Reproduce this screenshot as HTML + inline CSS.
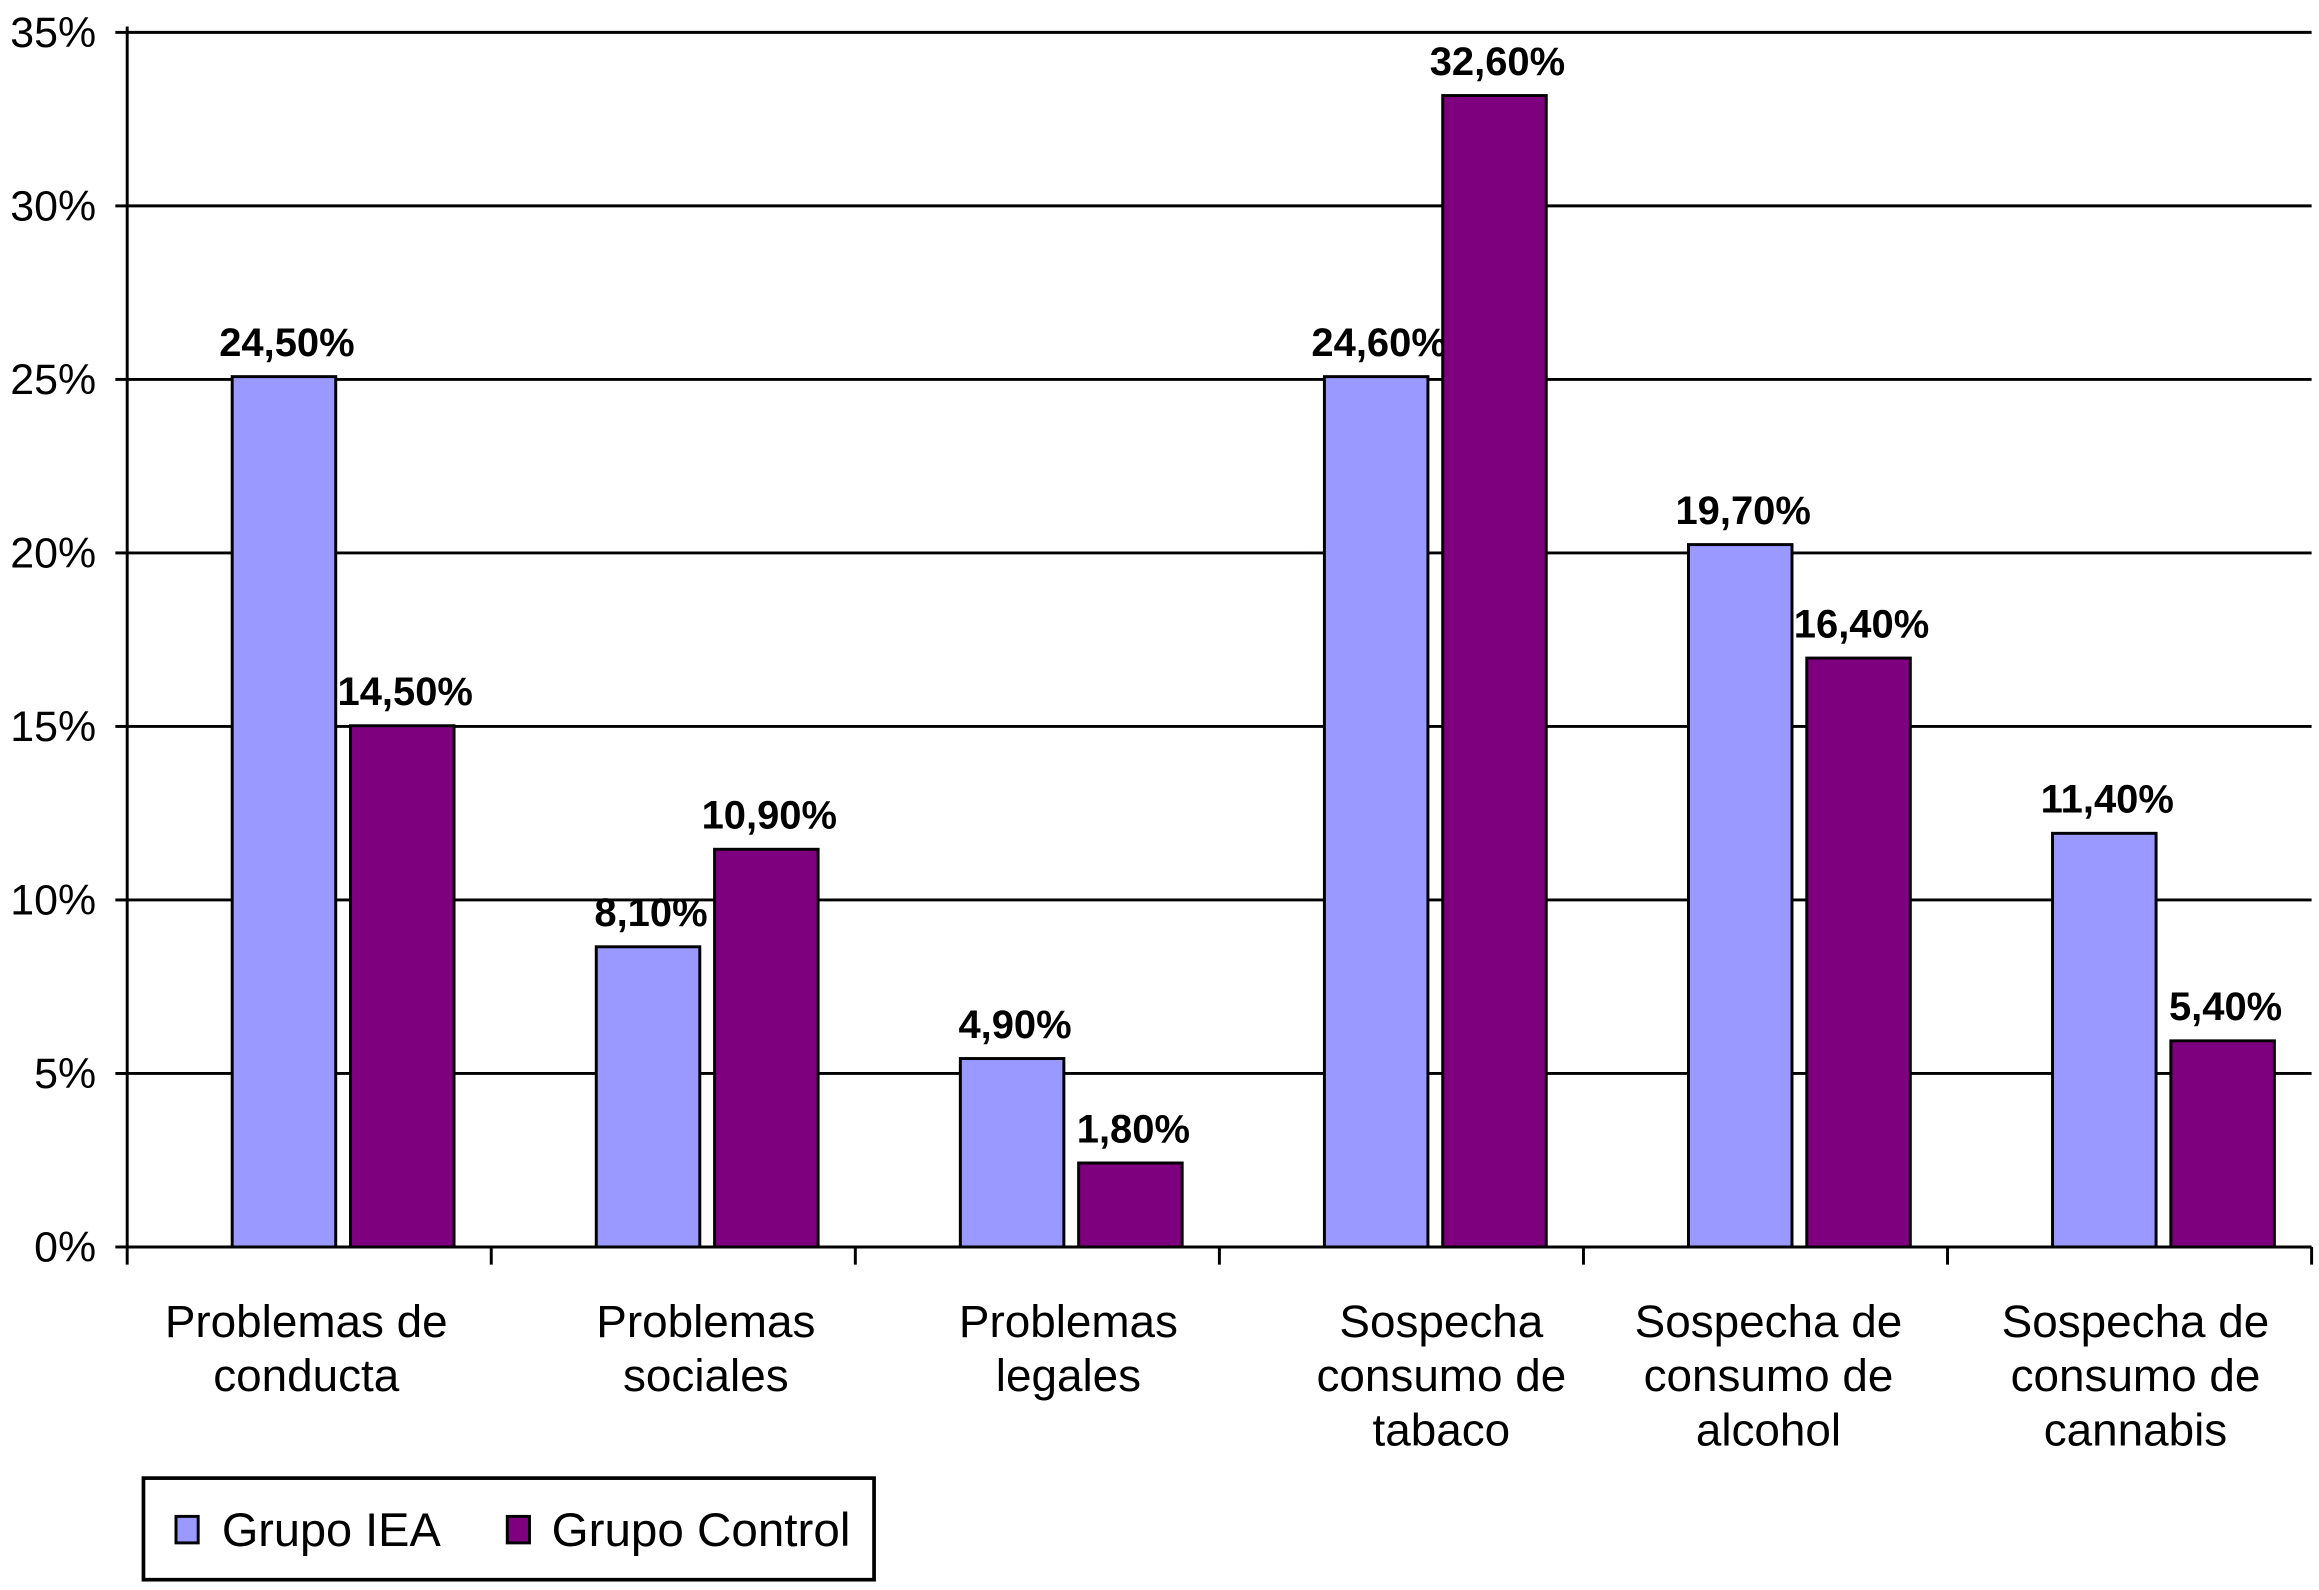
<!DOCTYPE html>
<html><head><meta charset="utf-8"><style>
html,body{margin:0;padding:0;background:#fff}
svg{display:block;font-family:"Liberation Sans",sans-serif}
</style></head><body>
<svg id="chart" width="2319" height="1590" viewBox="0 0 1568 1080" preserveAspectRatio="none" xmlns="http://www.w3.org/2000/svg"></svg>
<script>
const categories = [["Problemas de","conducta"],["Problemas","sociales"],["Problemas","legales"],["Sospecha","consumo de","tabaco"],["Sospecha de","consumo de","alcohol"],["Sospecha de","consumo de","cannabis"]];
const ieaValues = [25.08, 8.65, 5.43, 25.08, 20.24, 11.92];
const controlValues = [15.02, 11.46, 2.42, 33.18, 16.97, 5.94];
const ieaLabels = ["24,50%","8,10%","4,90%","24,60%","19,70%","11,40%"];
const controlLabels = ["14,50%","10,90%","1,80%","32,60%","16,40%","5,40%"];
const yTicks = [0,5,10,15,20,25,30,35];
const yTickLabels = ["0%","5%","10%","15%","20%","25%","30%","35%"];

const NS="http://www.w3.org/2000/svg";
const svg=document.getElementById('chart');
const X0=86,X1=1563,Y0=847,Y1=22,YMAX=35;
const y=v=>Y0-(v/YMAX)*(Y0-Y1);
const gw=(X1-X0)/categories.length;
const gx=i=>X0+i*gw;
const labelShift=[-2,22,21,27,2,4];
function mk(tag,attrs,text){const e=document.createElementNS(NS,tag);for(const k in attrs)e.setAttribute(k,attrs[k]);if(text!==undefined)e.textContent=text;svg.appendChild(e);return e;}

yTicks.forEach((t,i)=>{
  const g=mk('line',{x1:X0,x2:X1,y1:y(t),y2:y(t),stroke:'#000','stroke-width':2});
  
  
  const tk=mk('line',{x1:X0-8,x2:X0,y1:y(t),y2:y(t),stroke:'#000','stroke-width':2});
  
  
  const l=mk('text',{x:65,y:y(t)+10,'font-size':29,'text-anchor':'end'},yTickLabels[i]);
  
  
});
const ax=mk('line',{x1:X0,x2:X0,y1:Y1-4,y2:Y0,stroke:'#000','stroke-width':2});


for(let i=0;i<=categories.length;i++){
  const t=mk('line',{x1:gx(i),x2:gx(i),y1:Y0,y2:Y0+12,stroke:'#000','stroke-width':2});
  
  
}
const BW=70;
categories.forEach((c,i)=>{
  const bx1=gx(i)+71,bx2=bx1+80;
  [[ieaValues,ieaLabels,'#9999ff',bx1,'iea'],[controlValues,controlLabels,'#7f007f',bx2,'control']].forEach(([vals,labs,col,bx,n])=>{
    const r=mk('rect',{x:bx,y:y(vals[i]),width:BW,height:Y0-y(vals[i]),fill:col,stroke:'#000','stroke-width':2});
    
    
    const t=mk('text',{x:bx+BW/2+2,y:y(vals[i])-14,'font-size':27,'font-weight':'bold','text-anchor':'middle'},labs[i]);
    
    
  });
  c.forEach((line,j)=>{
    const t=mk('text',{x:gx(i)+gw/2+labelShift[i],y:908+j*37,'font-size':31,'text-anchor':'middle'},line);
    
    
  });
});
const lg=mk('rect',{x:97,y:1004,width:494,height:69,fill:'#fff',stroke:'#000','stroke-width':2.5});


const s1=mk('rect',{x:119,y:1030,width:15,height:18,fill:'#9999ff',stroke:'#000','stroke-width':2});


const t1=mk('text',{x:150,y:1050,'font-size':32,textLength:148,lengthAdjust:'spacingAndGlyphs'},'Grupo IEA');


const s2=mk('rect',{x:343,y:1030,width:15,height:18,fill:'#7f007f',stroke:'#000','stroke-width':2});


const t2=mk('text',{x:373,y:1050,'font-size':32,textLength:202,lengthAdjust:'spacingAndGlyphs'},'Grupo Control');


</script>
</body></html>
